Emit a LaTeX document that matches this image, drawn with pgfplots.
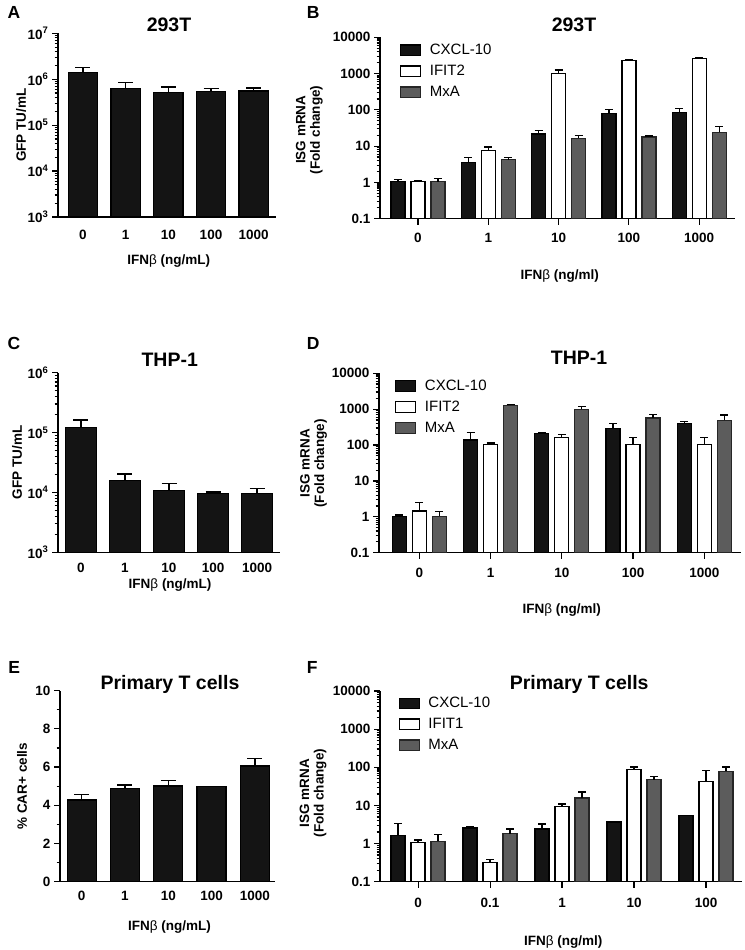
\documentclass[border=0pt]{standalone}
\usepackage{fontspec}
\setmainfont{Liberation Sans}
\usepackage{pgfplots}
\pgfplotsset{compat=1.18}
\definecolor{barblack}{HTML}{141414}
\definecolor{bargray}{HTML}{5C5C5C}
\newcommand{\tickfont}{\fontsize{13.5}{15}\selectfont\bfseries}
\newcommand{\labfont}{\fontsize{13.5}{14.5}\selectfont\bfseries}
\newcommand{\bet}{{\mdseries β}}
\pgfplotsset{
  panel/.style={
    scale only axis,
    axis x line*=bottom, axis y line*=left,
    axis line style={line width=1.4pt, black},
    tick style={line width=1.2pt, black},
    tick align=outside,
    major tick length=6pt, minor tick length=3.5pt,
    enlargelimits=false,
    tick label style={font=\tickfont},
    label style={font=\labfont},
    xtick={0,1,2,3,4},
    xticklabel style={anchor=base},
    ylabel style={anchor=center},
  },
  bk/.style={fill=barblack, draw=black, line width=1.3pt},
  wh/.style={fill=white, draw=black, line width=1.3pt},
  gr/.style={fill=bargray, draw=black!85, line width=1.3pt},
  eb/.style={error bars/y dir=plus, error bars/y explicit,
    error bars/error bar style={line width=1.3pt, black},
    error bars/error mark options={rotate=90, mark size=#1, line width=1.3pt, black}},
  mylegend/.style={
    legend cell align=left,
    legend style={draw=none, fill=none, inner sep=0pt, font=\fontsize{15}{17}\selectfont, row sep=6pt,
      nodes={inner sep=1.5pt}},
    legend image code/.code={\draw[##1, line width=1.3pt] (0pt,-5.3pt) rectangle (20pt,5.3pt); \path (27pt,0pt);},
  },
}
\begin{document}
\begin{tikzpicture}
\path[use as bounding box] (0pt,0pt) rectangle (744pt,950pt);
% ---------------- A ----------------
\begin{axis}[panel, xtick style={draw=none}, ybar, bar width=29.5pt,
  at={(58pt,733pt)}, anchor=south west,
  width=218.3pt, height=183.7pt, xmin=-0.585, xmax=4.53,
  ymode=log, log origin y=infty, ymin=1e3, ymax=1e7,
  ytick={1e3,1e4,1e5,1e6,1e7},
  yticklabels={10\textsuperscript{3},10\textsuperscript{4},10\textsuperscript{5},10\textsuperscript{6},10\textsuperscript{7}},
  minor ytick={2e3,3e3,4e3,5e3,6e3,7e3,8e3,9e3,2e4,3e4,4e4,5e4,6e4,7e4,8e4,9e4,2e5,3e5,4e5,5e5,6e5,7e5,8e5,9e5,2e6,3e6,4e6,5e6,6e6,7e6,8e6,9e6},
  xticklabels={0,1,10,100,1000}, xticklabel style={yshift=-17pt},
  xlabel={IFN\bet{} (ng/mL)}, xlabel style={at={(axis description cs:0.507,-0.256)}, anchor=base},
  ylabel={GFP TU/mL}, ylabel style={at={(axis description cs:-0.169,0.5)}},
]
\addplot[bk, eb=7.5pt] coordinates {(0,1.4e6) +- (0,4e5) (1,6.3e5) +- (0,2.2e5) (2,5.2e5) +- (0,1.6e5) (3,5.45e5) +- (0,0.85e5) (4,5.5e5) +- (0,0.9e5)};
\end{axis}
% ---------------- B ----------------
\begin{axis}[panel, ymode=log, log origin y=infty, ymin=0.1, ymax=10000,
  ytick={0.1,1,10,100,1000,10000},
  yticklabels={0.1,1,10,100,1000,10000},
  minor ytick={0.2,0.3,0.4,0.5,0.6,0.7,0.8,0.9,2,3,4,5,6,7,8,9,20,30,40,50,60,70,80,90,200,300,400,500,600,700,800,900,2000,3000,4000,5000,6000,7000,8000,9000},
  ylabel style={align=center},
  ybar, bar width=14pt, mylegend,
  at={(380pt,731.3pt)}, anchor=south west,
  width=355pt, height=181.4pt, xmin=-0.54, xmax=4.51,
  xticklabels={0,1,10,100,1000}, xticklabel style={yshift=-17.6pt},
  xlabel={IFN\bet{} (ng/ml)}, xlabel style={at={(axis description cs:0.506,-0.334)}, anchor=base},
  ylabel={ISG mRNA\\(Fold change)}, ylabel style={at={(axis description cs:-0.199,0.49)}},
  legend style={at={(axis description cs:0.056,0.97)}, anchor=north west},
]
\addplot[bk, bar shift=-20pt, eb=4pt] coordinates {(0,1.05) +- (0,0.15) (1,3.6) +- (0,1.3) (2,21.6) +- (0,5) (3,79) +- (0,21) (4,86) +- (0,21)};
\addplot[wh, bar shift=0pt, eb=4pt] coordinates {(0,1.05) +- (0,0.1) (1,7.7) +- (0,1.7) (2,1020) +- (0,230) (3,2340) +- (0,110) (4,2550) +- (0,170)};
\addplot[gr, bar shift=20pt, eb=4pt] coordinates {(0,1.05) +- (0,0.25) (1,4.2) +- (0,0.7) (2,16.3) +- (0,3.4) (3,17.7) +- (0,1.3) (4,24) +- (0,11)};
\legend{CXCL-10,IFIT2,MxA}
\end{axis}
% ---------------- C ----------------
\begin{axis}[panel, xtick style={draw=none}, ybar, bar width=31pt,
  at={(58pt,397.7pt)}, anchor=south west,
  width=222pt, height=179.6pt, xmin=-0.52, xmax=4.52,
  ymode=log, log origin y=infty, ymin=1e3, ymax=1e6,
  ytick={1e3,1e4,1e5,1e6},
  yticklabels={10\textsuperscript{3},10\textsuperscript{4},10\textsuperscript{5},10\textsuperscript{6}},
  minor ytick={2e3,3e3,4e3,5e3,6e3,7e3,8e3,9e3,2e4,3e4,4e4,5e4,6e4,7e4,8e4,9e4,2e5,3e5,4e5,5e5,6e5,7e5,8e5,9e5},
  xticklabels={0,1,10,100,1000}, xticklabel style={yshift=-14.5pt},
  xlabel={IFN\bet{} (ng/mL)}, xlabel style={at={(axis description cs:0.505,-0.2)}, anchor=base},
  ylabel={GFP TU/mL}, ylabel style={at={(axis description cs:-0.184,0.5)}},
]
\addplot[bk, eb=7.5pt] coordinates {(0,1.22e5) +- (0,0.4e5) (1,1.59e4) +- (0,0.45e4) (2,1.07e4) +- (0,0.33e4) (3,9.7e3) +- (0,0.5e3) (4,9.5e3) +- (0,2.2e3)};
\end{axis}
% ---------------- D ----------------
\begin{axis}[panel, ymode=log, log origin y=infty, ymin=0.1, ymax=10000,
  ytick={0.1,1,10,100,1000,10000},
  yticklabels={0.1,1,10,100,1000,10000},
  minor ytick={0.2,0.3,0.4,0.5,0.6,0.7,0.8,0.9,2,3,4,5,6,7,8,9,20,30,40,50,60,70,80,90,200,300,400,500,600,700,800,900,2000,3000,4000,5000,6000,7000,8000,9000},
  ylabel style={align=center},
  ybar, bar width=14pt, mylegend,
  at={(379pt,397.3pt)}, anchor=south west,
  width=362pt, height=179.4pt, xmin=-0.566, xmax=4.515,
  xticklabels={0,1,10,100,1000}, xticklabel style={yshift=-18.6pt},
  xlabel={IFN\bet{} (ng/ml)}, xlabel style={at={(axis description cs:0.505,-0.338)}, anchor=base},
  ylabel={ISG mRNA\\(Fold change)}, ylabel style={at={(axis description cs:-0.181,0.498)}},
  legend style={at={(axis description cs:0.044,0.972)}, anchor=north west},
]
\addplot[bk, bar shift=-20pt, eb=4pt] coordinates {(0,1.0) +- (0,0.13) (1,137) +- (0,87) (2,209) +- (0,19) (3,295) +- (0,105) (4,400) +- (0,45)};
\addplot[wh, bar shift=0pt, eb=4pt] coordinates {(0,1.44) +- (0,1.06) (1,102) +- (0,11) (2,162) +- (0,38) (3,105) +- (0,60) (4,105) +- (0,60)};
\addplot[gr, bar shift=20pt, eb=4pt] coordinates {(0,1.04) +- (0,0.36) (1,1290) +- (0,90) (2,990) +- (0,180) (3,565) +- (0,148) (4,485) +- (0,205)};
\legend{CXCL-10,IFIT2,MxA}
\end{axis}
% ---------------- E ----------------
\begin{axis}[panel, xtick style={draw=none}, ybar, bar width=29pt,
  at={(60pt,68.3pt)}, anchor=south west,
  width=215.3pt, height=191pt, xmin=-0.5, xmax=4.47,
  ymin=0, ymax=10, ytick={0,2,4,6,8,10}, yticklabels={0,2,4,6,8,10},
  minor ytick={1,3,5,7,9},
  xticklabels={0,1,10,100,1000}, xticklabel style={yshift=-13pt},
  xlabel={IFN\bet{} (ng/mL)}, xlabel style={at={(axis description cs:0.509,-0.253)}, anchor=base},
  ylabel={\% CAR+ cells}, ylabel style={at={(axis description cs:-0.176,0.5)}},
]
\addplot[bk, eb=7.5pt] coordinates {(0,4.28) +- (0,0.29) (1,4.89) +- (0,0.17) (2,5.01) +- (0,0.28) (3,4.97) +- (0,0.02) (4,6.06) +- (0,0.4)};
\end{axis}
% ---------------- F ----------------
\begin{axis}[panel, ymode=log, log origin y=infty, ymin=0.1, ymax=10000,
  ytick={0.1,1,10,100,1000,10000},
  yticklabels={0.1,1,10,100,1000,10000},
  minor ytick={0.2,0.3,0.4,0.5,0.6,0.7,0.8,0.9,2,3,4,5,6,7,8,9,20,30,40,50,60,70,80,90,200,300,400,500,600,700,800,900,2000,3000,4000,5000,6000,7000,8000,9000},
  ylabel style={align=center},
  ybar, bar width=14pt, mylegend,
  at={(380pt,68.3pt)}, anchor=south west,
  width=362pt, height=190.7pt, xmin=-0.53, xmax=4.5,
  xticklabels={0,0.1,1,10,100}, xticklabel style={yshift=-19.6pt},
  xlabel={IFN\bet{} (ng/ml)}, xlabel style={at={(axis description cs:0.506,-0.337)}, anchor=base},
  ylabel={ISG mRNA\\(Fold change)}, ylabel style={at={(axis description cs:-0.185,0.464)}},
  legend style={at={(axis description cs:0.051,0.975)}, anchor=north west},
]
\addplot[bk, bar shift=-20pt, eb=4pt] coordinates {(0,1.6) +- (0,1.7) (1,2.55) +- (0,0.25) (2,2.4) +- (0,0.85) (3,3.7) +- (0,0) (4,5.5) +- (0,0)};
\addplot[wh, bar shift=0pt, eb=4pt] coordinates {(0,1.05) +- (0,0.19) (1,0.32) +- (0,0.06) (2,9.3) +- (0,1.6) (3,87) +- (0,15) (4,42) +- (0,41)};
\addplot[gr, bar shift=20pt, eb=4pt] coordinates {(0,1.14) +- (0,0.56) (1,1.8) +- (0,0.6) (2,15.6) +- (0,6.9) (3,47) +- (0,11) (4,78) +- (0,24)};
\legend{CXCL-10,IFIT1,MxA}
\end{axis}
% ---------------- titles and panel letters ----------------
\begin{scope}[every node/.style={font=\fontsize{19.5}{22}\selectfont\bfseries, anchor=base, inner sep=0pt}]
\node at (169pt,918.3pt) {293T};
\node at (574pt,918.3pt) {293T};
\node at (169.7pt,583.3pt) {THP-1};
\node at (579pt,585pt) {THP-1};
\node at (170pt,260pt) {Primary T cells};
\node at (579.2pt,260.7pt) {Primary T cells};
\end{scope}
\begin{scope}[every node/.style={font=\fontsize{17.5}{20}\selectfont\bfseries, anchor=base west, inner sep=0pt}]
\node at (7.3pt,931.7pt) {A};
\node at (306.7pt,931.7pt) {B};
\node at (7.3pt,600pt) {C};
\node at (306.7pt,600pt) {D};
\node at (8.3pt,276.7pt) {E};
\node at (306.7pt,276.7pt) {F};
\end{scope}
\end{tikzpicture}
\end{document}
